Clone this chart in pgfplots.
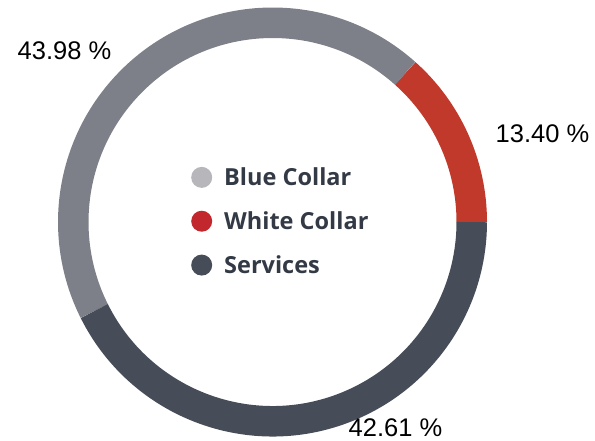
\documentclass[border=0pt]{standalone}
\usepackage{pgfplots}
\pgfplotsset{compat=1.18}
\usepackage{pgfplotstable}
\usepackage{fontspec}
\setmainfont{Liberation Sans}
\newfontfamily\legfont{Open Sans}
\definecolor{cgray}{HTML}{7E8089}
\definecolor{cred}{HTML}{C0392B}
\definecolor{cdark}{HTML}{474D58}
\definecolor{lgray}{HTML}{B6B6BB}
\definecolor{lred}{HTML}{C1272D}
\definecolor{ltext}{HTML}{333A45}
\pgfplotstableread{
name value
White 13.40
Blue 43.98
Services 42.61
}\sharetable
\pgfplotsset{dot legend/.style={legend image code/.code={\fill[##1, draw=none] (0.3cm,0pt) circle (10.5pt);}}}
\begin{document}
\begin{tikzpicture}
\pgfplotstablegetelem{0}{value}\of\sharetable \pgfmathsetmacro\angA{\pgfplotsretval*3.6}
\pgfplotstablegetelem{1}{value}\of\sharetable \pgfmathsetmacro\angB{\angA+\pgfplotsretval*3.6}
\pgfplotstablegetelem{2}{value}\of\sharetable \pgfmathsetmacro\angC{\angB+\pgfplotsretval*3.6}
\begin{axis}[scale only axis, width=595pt, height=440pt, at={(0,0)}, anchor=south west,
  xmin=0, xmax=595, ymin=0, ymax=440, hide axis, clip=false,
  legend style={at={(axis cs:188,276.5)}, anchor=north west, draw=none, fill=none,
    font=\legfont\bfseries\fontsize{23.5}{27}\selectfont, text=ltext, row sep=20.5pt,
    /tikz/every odd column/.append style={column sep=10pt}},
  legend cell align=left]
\addlegendimage{dot legend, fill=lgray}
\addlegendentry{Blue Collar}
\addlegendimage{dot legend, fill=lred}
\addlegendentry{White Collar}
\addlegendimage{dot legend, fill=cdark}
\addlegendentry{Services}
\draw[cred, line width=30.5pt, shift={(axis cs:272.5,218)}] (0:199.25pt) arc[start angle=0, end angle=\angA, radius=199.25pt];
\draw[cgray, line width=30.5pt, shift={(axis cs:272.5,218)}] (\angA:199.25pt) arc[start angle=\angA, end angle=\angB, radius=199.25pt];
\draw[cdark, line width=30.5pt, shift={(axis cs:272.5,218)}] (\angB:199.25pt) arc[start angle=\angB, end angle=\angC, radius=199.25pt];
\node[anchor=base, font=\fontsize{25.5}{30}\selectfont] at (axis cs:64.5,380) {43.98 \%};
\node[anchor=base, font=\fontsize{25.5}{30}\selectfont] at (axis cs:542.5,298) {13.40 \%};
\node[anchor=base, font=\fontsize{25.5}{30}\selectfont] at (axis cs:395.5,4) {42.61 \%};
\end{axis}
\pgfresetboundingbox
\path[use as bounding box] (0,0) rectangle (595pt,440pt);
\end{tikzpicture}
\end{document}
